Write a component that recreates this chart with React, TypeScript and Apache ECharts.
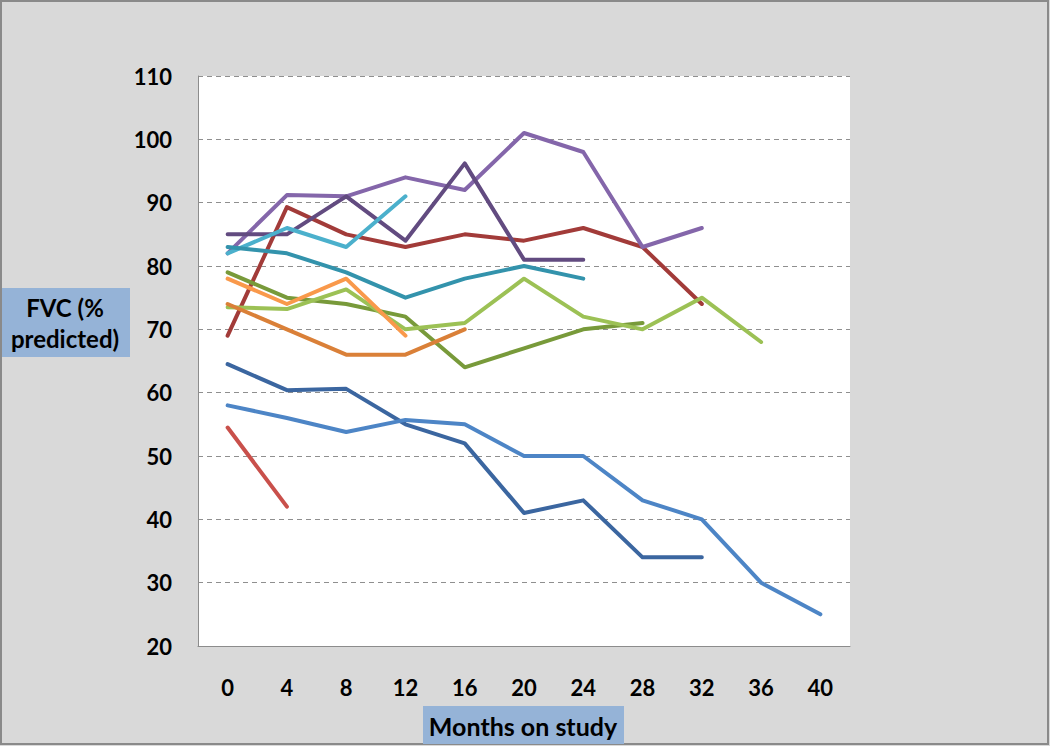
import React, { useEffect, useRef } from "react";
import * as echarts from "echarts";

const months = ["0", "4", "8", "12", "16", "20", "24", "28", "32", "36", "40"];
const yTicks = { min: 20, max: 110, interval: 10 };

const darkBlue = [64.5, 60.4, 60.6, 55, 52, 41, 43, 34, 34];
const lightBlue = [58, 56, 53.8, 55.7, 55, 50, 50, 43, 40, 30, 25];
const red = [54.5, 42];
const darkRed = [69, 89.3, 85, 83, 85, 84, 86, 83, 74];
const purple = [82, 91.2, 91, 94, 92, 101, 98, 83, 86];
const darkPurple = [85, 85, 91, 84, 96.2, 81, 81];
const cyan = [82, 86, 83, 91];
const teal = [83, 82, 79, 75, 78, 80, 78];
const olive = [79, 75, 74, 72, 64, 67, 70, 71];
const lightGreen = [73.5, 73.2, 76.3, 70, 71, 78, 72, 70, 75, 68];
const orange = [78, 74, 78, 69];
const darkOrange = [74, 70, 66, 66, 70];

const seriesList: { name: string; data: number[]; color: string }[] = [
  { name: "P1", data: darkBlue, color: "#3B66A0" },
  { name: "P2", data: lightBlue, color: "#4D85C6" },
  { name: "P3", data: red, color: "#C9504B" },
  { name: "P4", data: darkRed, color: "#A23B39" },
  { name: "P5", data: purple, color: "#8466AA" },
  { name: "P6", data: darkPurple, color: "#624B80" },
  { name: "P7", data: cyan, color: "#4BB0CC" },
  { name: "P8", data: teal, color: "#3393AC" },
  { name: "P9", data: olive, color: "#789A3A" },
  { name: "P10", data: lightGreen, color: "#9CC155" },
  { name: "P11", data: orange, color: "#F9994B" },
  { name: "P12", data: darkOrange, color: "#DA8038" },
];

const FONT = "Lato, 'Open Sans', sans-serif";

export default function App() {
  const ref = useRef<HTMLDivElement>(null);
  useEffect(() => {
    document.body.style.margin = "0";
    if (!ref.current) return;
    const chart = echarts.init(ref.current, null, { renderer: "svg" });
    chart.setOption({
      animation: false,
      backgroundColor: "#D9D9D9",
      grid: {
        left: 198,
        top: 76,
        right: 200,
        bottom: 100,
        show: true,
        backgroundColor: "#FFFFFF",
        borderWidth: 0,
      },
      xAxis: {
        type: "category",
        data: months,
        boundaryGap: true,
        axisLine: { show: true, lineStyle: { color: "#8C8C8C", width: 1 } },
        axisTick: { show: false },
        axisLabel: {
          color: "#000",
          fontFamily: FONT,
          fontWeight: "bold",
          fontSize: 22,
          margin: 30,
        },
        splitLine: { show: false },
      },
      yAxis: {
        type: "value",
        min: yTicks.min,
        max: yTicks.max,
        interval: yTicks.interval,
        axisLine: { show: true, lineStyle: { color: "#8C8C8C", width: 1 } },
        axisTick: { show: false },
        axisLabel: {
          color: "#000",
          fontFamily: FONT,
          fontWeight: "bold",
          fontSize: 22,
          margin: 26,
        },
        splitLine: {
          show: true,
          lineStyle: { color: "#8F8F8F", type: [5, 4], width: 1 },
        },
      },
      series: seriesList.map((s) => ({
        name: s.name,
        type: "line",
        data: s.data,
        showSymbol: false,
        symbol: "none",
        lineStyle: { color: s.color, width: 4, cap: "round", join: "round" },
        itemStyle: { color: s.color },
      })),
      graphic: [
        {
          type: "rect",
          shape: { x: 1, y: 1, width: 1047, height: 743 },
          style: { fill: "none", stroke: "#8A8A8A", lineWidth: 2 },
          silent: true,
        },
        {
          type: "rect",
          shape: { x: 2, y: 288, width: 128, height: 69 },
          style: { fill: "#95B3D7" },
          z: 10,
        },
        {
          type: "text",
          x: 65,
          y: 323,
          z: 11,
          style: {
            text: "FVC (%\npredicted)",
            fill: "#000",
            font: `bold 24px ${FONT}`,
            lineHeight: 31,
            align: "center",
            verticalAlign: "middle",
          },
        },
        {
          type: "rect",
          shape: { x: 423, y: 706, width: 201, height: 38 },
          style: { fill: "#95B3D7" },
          z: 10,
        },
        {
          type: "text",
          x: 523,
          y: 726,
          z: 11,
          style: {
            text: "Months on study",
            fill: "#000",
            font: `bold 25px ${FONT}`,
            align: "center",
            verticalAlign: "middle",
          },
        },
      ],
    });
    return () => chart.dispose();
  }, []);
  return <div ref={ref} style={{ width: 1050, height: 746 }} />;
}
